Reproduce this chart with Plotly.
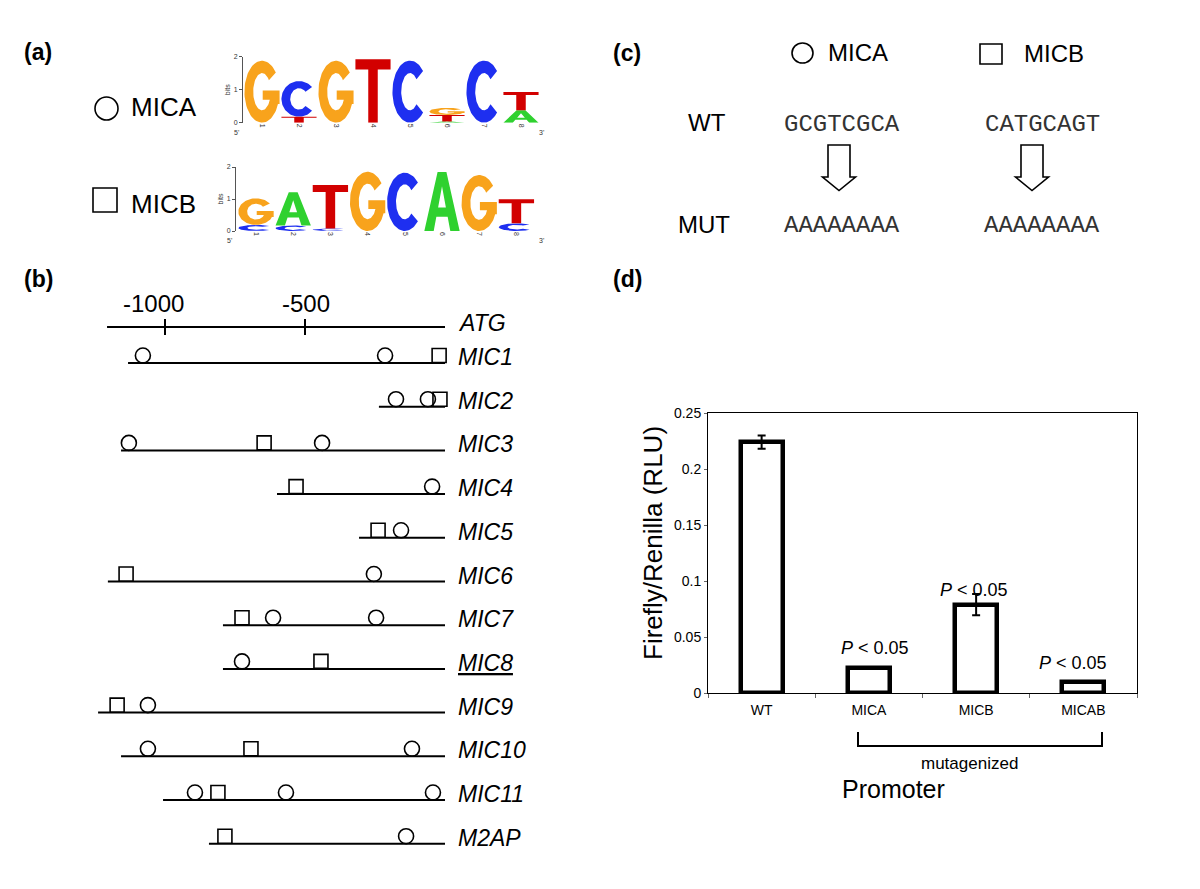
import numpy as np
import plotly.graph_objects as go

W, H = 1200, 889
SANS = "Arial, 'Liberation Sans', Helvetica, sans-serif"
MONO = "'Courier New', Courier, 'Liberation Mono', monospace"

# ======================= DATA =======================
# (a) sequence logos - information content (bits) per nucleotide, positions 1..8
LOGO_POSITIONS = [1, 2, 3, 4, 5, 6, 7, 8]
NUCLEOTIDES = ["A", "C", "G", "T"]
MICA_BITS_A = [0.00, 0.00, 0.00, 0.00, 0.00, 0.04, 0.00, 0.38]
MICA_BITS_C = [0.00, 1.08, 0.00, 0.00, 1.88, 0.00, 1.88, 0.00]
MICA_BITS_G = [1.88, 0.00, 1.88, 0.00, 0.00, 0.22, 0.00, 0.00]
MICA_BITS_T = [0.00, 0.18, 0.00, 1.92, 0.00, 0.19, 0.00, 0.55]
MICB_BITS_A = [0.00, 1.04, 0.00, 0.00, 0.00, 1.84, 0.00, 0.00]
MICB_BITS_C = [0.19, 0.17, 0.08, 0.00, 1.82, 0.00, 0.00, 0.24]
MICB_BITS_G = [0.83, 0.00, 0.00, 1.85, 0.00, 0.00, 1.75, 0.00]
MICB_BITS_T = [0.00, 0.00, 1.36, 0.00, 0.00, 0.00, 0.00, 0.75]
LOGO_YTICKS = [0, 1, 2]

# (b) promoter maps, positions in bp relative to ATG
GENES = ["MIC1", "MIC2", "MIC3", "MIC4", "MIC5", "MIC6", "MIC7", "MIC8",
         "MIC9", "MIC10", "MIC11", "M2AP"]
GENE_START = [-1132, -236, -1157, -600, -307, -1204, -793, -793, -1239, -1157, -1007, -843]
GENE_END = 0
MICA_SITES = [[-1079, -214], [-175, -61], [-1129, -439], [-46], [-157], [-254],
              [-614, -246], [-725], [-1061], [-1061, -118], [-893, -568, -43], [-139]]
MICB_SITES = [[-21], [-18], [-646], [-532], [-239], [-1139], [-725], [-443],
              [-1171], [-693], [-811], [-786]]
UNDERLINED_GENE = "MIC8"
SCALE_START = -1207
SCALE_TICKS = [-1000, -500]
SCALE_TICK_LABELS = ["-1000", "-500"]

# (c) mutated motif sequences
MOTIF_NAMES = ["MICA", "MICB"]
SEQ_WT = ["GCGTCGCA", "CATGCAGT"]
SEQ_MUT = ["AAAAAAAA", "AAAAAAAA"]

# (d) luciferase reporter assay
PROMOTERS = ["WT", "MICA", "MICB", "MICAB"]
RLU = [0.224, 0.022, 0.079, 0.010]
RLU_ERR = [0.006, 0.0, 0.0095, 0.0]
PVAL_TEXT = ["", "<i>P</i> &lt; 0.05", "<i>P</i> &lt; 0.05", "<i>P</i> &lt; 0.05"]
Y_TICKS = [0, 0.05, 0.1, 0.15, 0.2, 0.25]
Y_TICK_TEXT = ["0", "0.05", "0.1", "0.15", "0.2", "0.25"]

# ======================= HELPERS =======================
def px(x):
    return x / W


def py(y):
    return 1 - y / H


annotations = []
shapes = []


def note(x, y, text, font, xanchor="center", yanchor="middle", **kw):
    """Text placed at pixel position (x, y) of the page."""
    annotations.append(dict(x=px(x), y=py(y), xref="paper", yref="paper", text=text,
                            xanchor=xanchor, yanchor=yanchor, showarrow=False, font=font, **kw))


NUC_COLORS = {"A": "#2fd12f", "C": "#1e2ff0", "G": "#f8a31c", "T": "#d20000"}
HALF = 0.475


def ring(a0, a1, rxi=0.25, ryi=0.30, n=70):
    t = np.radians(np.linspace(a0, a1, n))
    ox, oy = 0.5 + 0.5 * np.cos(t), 0.5 + 0.5 * np.sin(t)
    ix, iy = 0.5 + rxi * np.cos(t[::-1]), 0.5 + ryi * np.sin(t[::-1])
    return list(zip(np.r_[ox, ix], np.r_[oy, iy]))


GLYPHS = {
    "T": [[(0, 1), (1, 1), (1, 0.84), (0.635, 0.84), (0.635, 0), (0.365, 0), (0.365, 0.84), (0, 0.84)]],
    "A": [[(0, 0), (0.375, 1), (0.625, 1), (1, 0), (0.735, 0), (0.66, 0.24), (0.34, 0.24), (0.265, 0)]],
    "C": [ring(42, 318)],
    "G": [ring(38, 345),
          [(0.52, 0.37), (1, 0.37), (1, 0.52), (0.52, 0.52)],
          [(0.77, 0.3), (1, 0.3), (1, 0.52), (0.77, 0.52)]],
}
A_HOLE = [(0.39, 0.40), (0.61, 0.40), (0.5, 0.76)]


def logo_traces(bits, xa, ya):
    coords = {n: ([], []) for n in NUCLEOTIDES}
    hx, hy = [], []
    for i, pos in enumerate(LOGO_POSITIONS):
        stack = sorted((bits[n][i], n) for n in NUCLEOTIDES if bits[n][i] > 0)
        base = 0.0
        for h, n in stack:
            xs, ys = coords[n]
            for poly in GLYPHS[n]:
                for u, v in poly:
                    xs.append(pos - HALF + 2 * HALF * u)
                    ys.append(base + h * v)
                xs.append(None)
                ys.append(None)
            if n == "A":
                for u, v in A_HOLE:
                    hx.append(pos - HALF + 2 * HALF * u)
                    hy.append(base + h * v)
                hx.append(None)
                hy.append(None)
            base += h
    out = []
    for n in NUCLEOTIDES:
        xs, ys = coords[n]
        if xs:
            out.append(go.Scatter(x=xs, y=ys, mode="lines", fill="toself",
                                  fillcolor=NUC_COLORS[n], line=dict(width=0, color=NUC_COLORS[n]),
                                  xaxis=xa, yaxis=ya, hoverinfo="skip", showlegend=False))
    if hx:
        out.append(go.Scatter(x=hx, y=hy, mode="lines", fill="toself", fillcolor="white",
                              line=dict(width=0, color="white"), xaxis=xa, yaxis=ya,
                              hoverinfo="skip", showlegend=False))
    return out


fig = go.Figure()

# ======================= (a) =======================
mica_bits = {"A": MICA_BITS_A, "C": MICA_BITS_C, "G": MICA_BITS_G, "T": MICA_BITS_T}
micb_bits = {"A": MICB_BITS_A, "C": MICB_BITS_C, "G": MICB_BITS_G, "T": MICB_BITS_T}
for tr in logo_traces(mica_bits, "x3", "y3"):
    fig.add_trace(tr)
for tr in logo_traces(micb_bits, "x4", "y4"):
    fig.add_trace(tr)

# logo geometry (pixels)
LOGO_A = dict(p1=262, step=37.0, left=243, right=541, y0=122.7, ypb=33.0)
LOGO_B = dict(p1=256, step=37.2, left=236, right=541, y0=231.0, ypb=32.0)

small_font = dict(family=SANS, size=7, color="#333")
for (xa, ya, g) in [("xaxis3", "yaxis3", LOGO_A), ("xaxis4", "yaxis4", LOGO_B)]:
    xr = [(g["left"] - g["p1"]) / g["step"] + 1, (g["right"] - g["p1"]) / g["step"] + 1]
    xd = [px(g["left"]), px(g["right"])]
    yd = [py(g["y0"]), py(g["y0"] - 2 * g["ypb"])]
    fig.layout[xa] = dict(domain=xd, range=xr, anchor=ya.replace("axis", ""),
                          tickvals=LOGO_POSITIONS, ticktext=[str(p) for p in LOGO_POSITIONS],
                          tickangle=90, tickfont=small_font, showgrid=False, zeroline=False,
                          showline=False, ticks="", fixedrange=True)
    fig.layout[ya] = dict(domain=yd, range=[0, 2], anchor=xa.replace("axis", ""),
                          tickvals=LOGO_YTICKS, tickfont=small_font, ticks="outside", ticklen=3,
                          tickcolor="#555", showline=True, linecolor="#555", linewidth=1,
                          showgrid=False, zeroline=False, fixedrange=True,
                          title=dict(text="bits", font=small_font, standoff=2))
    note(g["left"] - 7, g["y0"] + 10, "5'", small_font)
    note(g["right"], g["y0"] + 10, "3'", small_font)

# legend symbols (a)
shapes.append(dict(type="circle", xref="paper", yref="paper", x0=px(95), x1=px(118),
                   y0=py(120), y1=py(97), line=dict(color="black", width=1.6)))
shapes.append(dict(type="rect", xref="paper", yref="paper", x0=px(93), x1=px(117),
                   y0=py(212), y1=py(188), line=dict(color="black", width=1.6)))
note(129, 107, "MICA", dict(family=SANS, size=26, color="black"), xanchor="left")
note(129, 204, "MICB", dict(family=SANS, size=26, color="black"), xanchor="left")

# ======================= (b) =======================
BP_PX = 0.28
ATG_PX = 445
ROW_PX = 43.7
ROW1_PX = 363
SCALE_GAP_PX = 36
MARK_LIFT_PX = 7.5
XB_DOM = [70, 456]
YB_DOM = [290, 872]
scale_row = 1 - SCALE_GAP_PX / ROW_PX
lift = MARK_LIFT_PX / ROW_PX
rows = list(range(1, len(GENES) + 1))

gx, gy = [SCALE_START, GENE_END, None], [scale_row, scale_row, None]
for s, r in zip(GENE_START, rows):
    gx += [s, GENE_END, None]
    gy += [r, r, None]
fig.add_trace(go.Scatter(x=gx, y=gy, mode="lines", line=dict(color="black", width=2),
                         xaxis="x2", yaxis="y2", hoverinfo="skip", showlegend=False))
tick_half = 8 / ROW_PX
tx, ty = [], []
for t in SCALE_TICKS:
    tx += [t, t, None]
    ty += [scale_row - tick_half, scale_row + tick_half, None]
fig.add_trace(go.Scatter(x=tx, y=ty, mode="lines", line=dict(color="black", width=2),
                         xaxis="x2", yaxis="y2", hoverinfo="skip", showlegend=False))

ax_, ay_, bx_, by_ = [], [], [], []
for r, a_sites, b_sites in zip(rows, MICA_SITES, MICB_SITES):
    ax_ += a_sites
    ay_ += [r - lift] * len(a_sites)
    bx_ += b_sites
    by_ += [r - lift] * len(b_sites)
fig.add_trace(go.Scatter(x=bx_, y=by_, mode="markers", cliponaxis=False,
                         marker=dict(symbol="square", size=14, color="white",
                                     line=dict(color="black", width=1.6)),
                         xaxis="x2", yaxis="y2", hoverinfo="skip", showlegend=False))
fig.add_trace(go.Scatter(x=ax_, y=ay_, mode="markers", cliponaxis=False,
                         marker=dict(symbol="circle", size=15, color="rgba(255,255,255,0)",
                                     line=dict(color="black", width=1.6)),
                         xaxis="x2", yaxis="y2", hoverinfo="skip", showlegend=False))

fig.layout["xaxis2"] = dict(domain=[px(XB_DOM[0]), px(XB_DOM[1])],
                            range=[(XB_DOM[0] - ATG_PX) / BP_PX, (XB_DOM[1] - ATG_PX) / BP_PX],
                            anchor="y2", visible=False, fixedrange=True)
fig.layout["yaxis2"] = dict(domain=[py(YB_DOM[1]), py(YB_DOM[0])],
                            range=[1 + (YB_DOM[1] - ROW1_PX) / ROW_PX, 1 + (YB_DOM[0] - ROW1_PX) / ROW_PX],
                            anchor="x2", visible=False, fixedrange=True)

label_font = dict(family=SANS, size=23, color="black", style="italic")
annotations.append(dict(x=GENE_END, y=scale_row, xref="x2", yref="y2", text="ATG",
                        xanchor="left", yanchor="middle", xshift=11, yshift=4,
                        showarrow=False, font=label_font))
for g, r in zip(GENES, rows):
    txt = f"<u>{g}</u>" if g == UNDERLINED_GENE else g
    annotations.append(dict(x=GENE_END, y=r, xref="x2", yref="y2", text=txt,
                            xanchor="left", yanchor="middle", xshift=11, yshift=6,
                            showarrow=False, font=label_font))
for t, lab, sh in zip(SCALE_TICKS, SCALE_TICK_LABELS, [-12, 1]):
    annotations.append(dict(x=t, y=scale_row, xref="x2", yref="y2", text=lab, xshift=sh,
                            xanchor="center", yanchor="middle", yshift=24, showarrow=False,
                            font=dict(family=SANS, size=24, color="black")))

# ======================= (c) =======================
big = dict(family=SANS, size=24, color="black")
mono = dict(family=MONO, size=24, color="#333")
shapes.append(dict(type="circle", xref="paper", yref="paper", x0=px(792), x1=px(813),
                   y0=py(63), y1=py(43), line=dict(color="black", width=1.6)))
shapes.append(dict(type="rect", xref="paper", yref="paper", x0=px(980), x1=px(1002),
                   y0=py(64), y1=py(44), line=dict(color="black", width=1.6)))
note(826, 53, MOTIF_NAMES[0], big, xanchor="left")
note(1022, 54, MOTIF_NAMES[1], big, xanchor="left")
note(707, 123, "WT", big)
note(704, 225, "MUT", big)
for cx, wt, mut in zip([842, 1042], SEQ_WT, SEQ_MUT):
    note(cx, 124, wt, mono)
    note(cx, 226, mut, mono)
for cx in [839, 1032]:
    pts = [(cx - 11, 145), (cx + 11, 145), (cx + 11, 177), (cx + 16.5, 177), (cx, 190.5),
           (cx - 16.5, 177), (cx - 11, 177)]
    path = "M " + " L ".join(f"{px(x):.5f},{py(y):.5f}" for x, y in pts) + " Z"
    shapes.append(dict(type="path", xref="paper", yref="paper", path=path,
                       line=dict(color="black", width=1.6), fillcolor="white"))

# ======================= (d) =======================
fig.add_trace(go.Bar(x=PROMOTERS, y=RLU, width=0.39,
                     marker=dict(color="white", line=dict(color="black", width=4.5)),
                     error_y=dict(type="data", array=RLU_ERR, color="black", thickness=2, width=4),
                     xaxis="x", yaxis="y", hoverinfo="skip", showlegend=False))
fig.layout["xaxis"] = dict(domain=[px(708), px(1137)], anchor="y", type="category",
                           range=[-0.5, 3.5], tickson="boundaries", ticks="outside", ticklen=4,
                           tickcolor="#666", tickfont=dict(family=SANS, size=14, color="black"),
                           showline=True, linecolor="black", linewidth=1, mirror=True,
                           showgrid=False, zeroline=False, ticklabelstandoff=4, fixedrange=True)
fig.layout["yaxis"] = dict(domain=[py(693), py(413)], anchor="x", range=[0, 0.25],
                           tickvals=Y_TICKS, ticktext=Y_TICK_TEXT, ticks="outside", ticklen=3,
                           tickcolor="#666", tickfont=dict(family=SANS, size=14, color="black"),
                           showline=True, linecolor="black", linewidth=1, mirror=True,
                           showgrid=False, zeroline=False, fixedrange=True)
for cat, v, txt, xs, ys in zip(PROMOTERS, RLU, PVAL_TEXT, [0, 6, -2, -10], [0, 20, 15, 19]):
    if txt:
        annotations.append(dict(x=cat, y=v, xref="x", yref="y", text=txt, xshift=xs, yshift=ys,
                                xanchor="center", yanchor="middle", showarrow=False,
                                font=dict(family=SANS, size=18, color="black")))
note(653, 543, "Firefly/Renilla (RLU)", dict(family=SANS, size=26, color="black"), textangle=-90)
shapes.append(dict(type="path", xref="paper", yref="paper",
                   path=f"M {px(858)},{py(732)} L {px(858)},{py(746)} L {px(1102)},{py(746)} L {px(1102)},{py(732)}",
                   line=dict(color="black", width=2)))
note(969, 763, "mutagenized", dict(family=SANS, size=17, color="black"))
note(893, 789, "Promoter", dict(family=SANS, size=25, color="black"))

# panel letters
for lab, x, y in [("(a)", 38, 52), ("(b)", 38, 279), ("(c)", 627, 53), ("(d)", 627, 279)]:
    note(x, y, f"<b>{lab}</b>", dict(family=SANS, size=23, color="black"))

fig.update_layout(width=W, height=H, margin=dict(l=0, r=0, t=0, b=0, pad=0, autoexpand=False),
                  paper_bgcolor="white", plot_bgcolor="white", showlegend=False,
                  annotations=annotations, shapes=shapes, bargap=0)
fig.write_html("out.html", config={"displayModeBar": False},
               post_script="document.body.style.margin='0';")
